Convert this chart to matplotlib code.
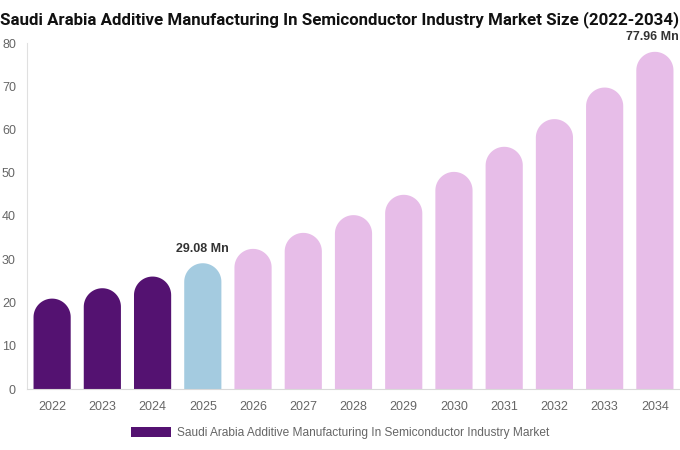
import matplotlib
matplotlib.use('Agg')
import matplotlib.pyplot as plt
import numpy as np
from matplotlib.path import Path
from matplotlib.patches import PathPatch, Patch

# data
years = ['2022', '2023', '2024', '2025', '2026', '2027', '2028',
         '2029', '2030', '2031', '2032', '2033', '2034']
values = [20.9, 23.3, 26.0, 29.08, 32.4, 36.1, 40.2, 44.9, 50.2, 56.0, 62.4, 69.7, 77.96]
bar_colors = ['#541271'] * 3 + ['#a4cbe0'] + ['#e7bde8'] * 9
labels = {3: '29.08 Mn', 12: '77.96 Mn'}
series_name = 'Saudi Arabia Additive Manufacturing In Semiconductor Industry Market'

plt.rcParams['font.family'] = ['Liberation Sans', 'DejaVu Sans']

W, H = 680, 450
fig = plt.figure(figsize=(W / 100, H / 100), dpi=100)
ax = fig.add_axes([27 / W, 61 / H, 653 / W, 346 / H])
ax.set_xlim(-0.5, 12.5)
ax.set_ylim(0, 80)

bar_w = 0.74
# radius of the rounded top in data units (semicircle in pixels)
px_per_x = 653 / 13
px_per_y = 346 / 80
rx = bar_w / 2
ry = rx * px_per_x / px_per_y


def rounded_bar(x, v, color):
    t = np.linspace(np.pi, 0, 40)
    cy = v - ry
    verts = [(x - rx, 0), (x - rx, cy)]
    verts += [(x + rx * np.cos(a), cy + ry * np.sin(a)) for a in t]
    verts += [(x + rx, 0), (x - rx, 0)]
    codes = [Path.MOVETO] + [Path.LINETO] * (len(verts) - 2) + [Path.CLOSEPOLY]
    ax.add_patch(PathPatch(Path(verts, codes), facecolor=color, edgecolor='none'))


for i, (v, c) in enumerate(zip(values, bar_colors)):
    rounded_bar(i, v, c)

for i, txt in labels.items():
    # keep the last label inside the figure edge
    dx = -2 if i == len(values) - 1 else 0
    ax.annotate(txt, (i, values[i]), xytext=(dx, 6), textcoords='offset points',
                ha='center', va='bottom', fontsize=9, fontweight='bold', color='#333333',
                annotation_clip=False)

ax.set_xticks(range(len(years)))
ax.set_xticklabels(years)
ax.set_yticks(range(0, 81, 10))
ax.tick_params(axis='x', length=0, pad=9, labelsize=9, labelcolor='#666666')
ax.tick_params(axis='y', length=0, pad=8, labelsize=9, labelcolor='#666666')
for s in ['top', 'right']:
    ax.spines[s].set_visible(False)
ax.spines['left'].set_color('#e0e0e0')
ax.spines['bottom'].set_color('#d9d9d9')

fig.text(0.5, 1 - 20 / H, 'Saudi Arabia Additive Manufacturing In Semiconductor Industry Market Size (2022-2034)',
         ha='center', va='center', fontsize=12.2, fontweight='bold', color='#111111',
         family=['Liberation Sans Narrow', 'Roboto', 'DejaVu Sans'])

fig.legend(handles=[Patch(facecolor=bar_colors[0], label=series_name)],
           loc='center', bbox_to_anchor=(0.5, 17 / H), frameon=False, fontsize=8.6,
           labelcolor='#666666', handlelength=3.35, handleheight=1.0, handletextpad=0.55)

fig.savefig('out.png', dpi=100)
